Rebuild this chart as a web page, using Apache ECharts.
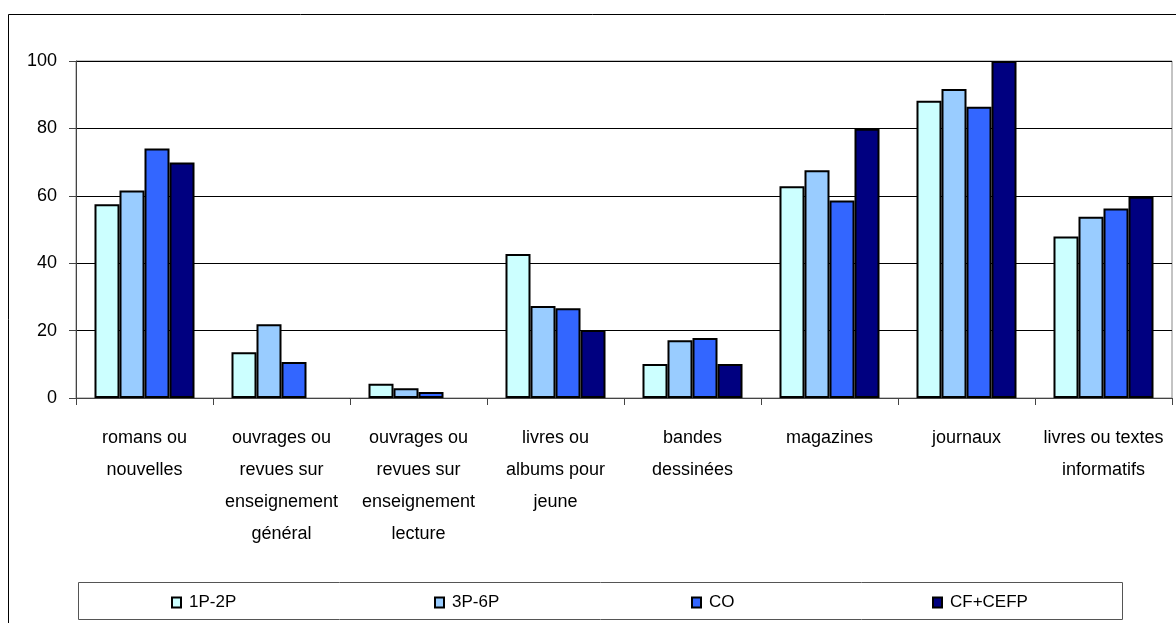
<html>
    <head>
        <meta charset="utf-8">
        <script src="https://cdn.jsdelivr.net/npm/echarts@6/dist/echarts.min.js"></script>
    </head>
    <body>
        <style>
            html, body, #main {
                width: 100%;
                height: 100%;
                margin: 0;
                background: #fff;
            }
        </style>
        <div id='main'></div>
        <script>
            var categories = [
                'romans ou\nnouvelles',
                'ouvrages ou\nrevues sur\nenseignement\ngénéral',
                'ouvrages ou\nrevues sur\nenseignement\nlecture',
                'livres ou\nalbums pour\njeune',
                'bandes\ndessinées',
                'magazines',
                'journaux',
                'livres ou textes\ninformatifs'
            ];
            var seriesNames = ['1P-2P', '3P-6P', 'CO', 'CF+CEFP'];
            var v1P2P = [57.5, 13.6, 4.2, 42.7, 10.1, 62.8, 88.2, 47.9];
            var v3P6P = [61.6, 21.9, 2.9, 27.3, 17.1, 67.6, 91.7, 53.8];
            var vCO = [74.0, 10.7, 1.8, 26.6, 17.8, 58.6, 86.4, 56.2];
            var vCFCEFP = [69.9, null, null, 20.2, 10.1, 79.9, 100, 59.7];
            var colors = ['#CCFFFF', '#99CCFF', '#3366FF', '#000080'];
            var values = [v1P2P, v3P6P, vCO, vCFCEFP];
            var legendLefts = [171, 434, 691, 932];

            var font = "'Liberation Sans', Arial, sans-serif";
            var chart = echarts.init(document.getElementById('main'));

            var option = {
                animation: false,
                grid: { left: 76, right: 4, top: 61, bottom: 225, show: true, borderColor: '#888', borderWidth: 1 },
                legend: seriesNames.map(function (n, i) {
                    return {
                        data: [n],
                        left: legendLefts[i],
                        top: 594,
                        padding: 0,
                        itemWidth: 9,
                        itemHeight: 10,
                        itemGap: 0,
                        icon: 'rect',
                        textStyle: { fontFamily: font, fontSize: 17, color: '#000', padding: [0, 0, 0, 3] }
                    };
                }),
                graphic: [
                    { type: 'rect', shape: { x: 8.5, y: 14.5, width: 1180, height: 620 }, style: { fill: 'none', stroke: '#000', lineWidth: 1 }, z: 0 },
                    { type: 'rect', shape: { x: 78.5, y: 582.5, width: 1044, height: 37 }, style: { fill: 'none', stroke: '#555', lineWidth: 1 }, z: 0 }
                ],
                xAxis: {
                    type: 'category',
                    data: categories,
                    axisLine: { lineStyle: { color: '#444', width: 1 } },
                    axisTick: { show: true, length: 7, lineStyle: { color: '#444' } },
                    axisLabel: { interval: 0, margin: 24, fontFamily: font, fontSize: 18, color: '#000', lineHeight: 32 }
                },
                yAxis: {
                    type: 'value',
                    min: 0,
                    max: 100,
                    interval: 20,
                    axisLine: { show: true, lineStyle: { color: '#444', width: 1 } },
                    axisTick: { show: true, length: 7, lineStyle: { color: '#444' } },
                    axisLabel: { margin: 19, fontFamily: font, fontSize: 18, color: '#000' },
                    splitLine: { lineStyle: { color: '#000', width: 1 } }
                },
                series: seriesNames.map(function (n, i) {
                    return {
                        name: n,
                        type: 'bar',
                        data: values[i],
                        barGap: '0%',
                        barCategoryGap: '27%',
                        itemStyle: { color: colors[i], borderColor: '#000', borderWidth: 2 }
                    };
                })
            };
            chart.setOption(option);
            window.onresize = chart.resize;
        </script>
    </body>
</html>
